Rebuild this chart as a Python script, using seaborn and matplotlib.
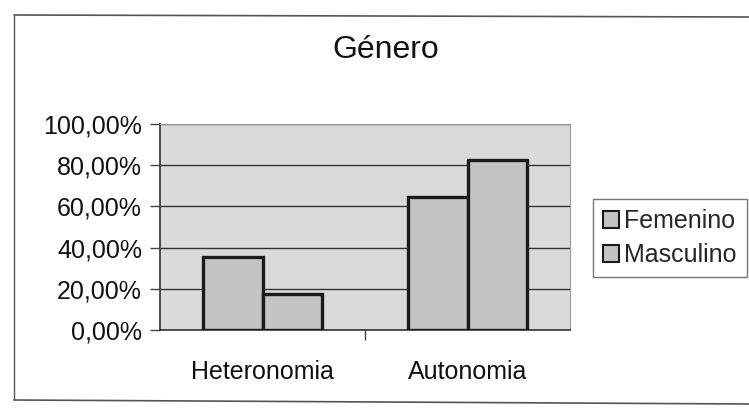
import matplotlib
matplotlib.use("Agg")
import matplotlib.pyplot as plt
import seaborn as sns
import pandas as pd
from matplotlib.ticker import FuncFormatter, FixedLocator
from matplotlib.lines import Line2D

categories = ["Heteronomia", "Autonomia"]
series = ["Femenino", "Masculino"]
femenino = [35.3, 64.7]
masculino = [17.6, 82.4]
title = "Género"

df = pd.DataFrame({
    "cat": categories * 2,
    "serie": [series[0]] * 2 + [series[1]] * 2,
    "val": femenino + masculino,
})

sns.set_style("white")
plt.rcParams["font.family"] = ["Liberation Sans", "DejaVu Sans"]

fig = plt.figure(figsize=(7.49, 4.13), dpi=100)
ax = fig.add_axes([160 / 749, 83 / 413, 410 / 749, 206 / 413])
ax.set_facecolor("#dadada")

sns.barplot(data=df, x="cat", y="val", hue="serie", order=categories,
            hue_order=series, palette=["#c4c4c4", "#c4c4c4"],
            edgecolor="#1a1a1a", linewidth=2.4, width=0.585, ax=ax,
            legend=False, zorder=3)

ax.set_xlim(-0.5, 1.5)
ax.set_ylim(0, 100)
ax.set_yticks([0, 20, 40, 60, 80, 100])
ax.yaxis.set_major_formatter(FuncFormatter(lambda v, p: f"{v:.2f}".replace(".", ",") + "%"))
ax.grid(axis="y", color="#333333", linewidth=1.0, zorder=0)
ax.set_axisbelow(True)
ax.set_xlabel("")
ax.set_ylabel("")
ax.tick_params(axis="y", left=True, length=7, width=1, color="#444444",
               labelsize=18, pad=6, labelcolor="#111111")
ax.tick_params(axis="x", which="major", bottom=False, labelsize=18, pad=18,
               labelcolor="#111111")
ax.xaxis.set_minor_locator(FixedLocator([0.5]))
ax.tick_params(axis="x", which="minor", bottom=True, length=7, width=1, color="#444444")
for s in ["left", "bottom"]:
    ax.spines[s].set_color("#333333")
    ax.spines[s].set_linewidth(1.2)
for s in ["top", "right"]:
    ax.spines[s].set_color("#9a9a9a")
    ax.spines[s].set_linewidth(0.8)

fig.text(386 / 749, 1 - 50 / 413, title, ha="center", va="center",
         fontsize=23, color="#111111")

handles = [plt.Rectangle((0, 0), 1, 1, facecolor="#c4c4c4", edgecolor="#1a1a1a",
                         linewidth=1.5) for _ in series]
leg = fig.legend(handles, series, loc="upper left",
                 bbox_to_anchor=(593 / 749, 1 - 199 / 413), fontsize=18,
                 frameon=True, fancybox=False, edgecolor="#555555",
                 handlelength=0.65, handleheight=0.65, handletextpad=0.2,
                 borderpad=0.4, labelspacing=0.4, borderaxespad=0)
leg.get_frame().set_linewidth(1.0)

# outer chart border (right edge cut off)
fig.add_artist(Line2D([14 / 749, 1.0], [1 - 15 / 413, 1 - 17 / 413],
                      transform=fig.transFigure, color="#555555", linewidth=1.2))
fig.add_artist(Line2D([14 / 749, 14 / 749], [1 - 15 / 413, 1 - 400 / 413],
                      transform=fig.transFigure, color="#555555", linewidth=1.0))
fig.add_artist(Line2D([14 / 749, 1.0], [1 - 400 / 413, 1 - 404 / 413],
                      transform=fig.transFigure, color="#555555", linewidth=1.2))

fig.savefig("out.png", dpi=100)
